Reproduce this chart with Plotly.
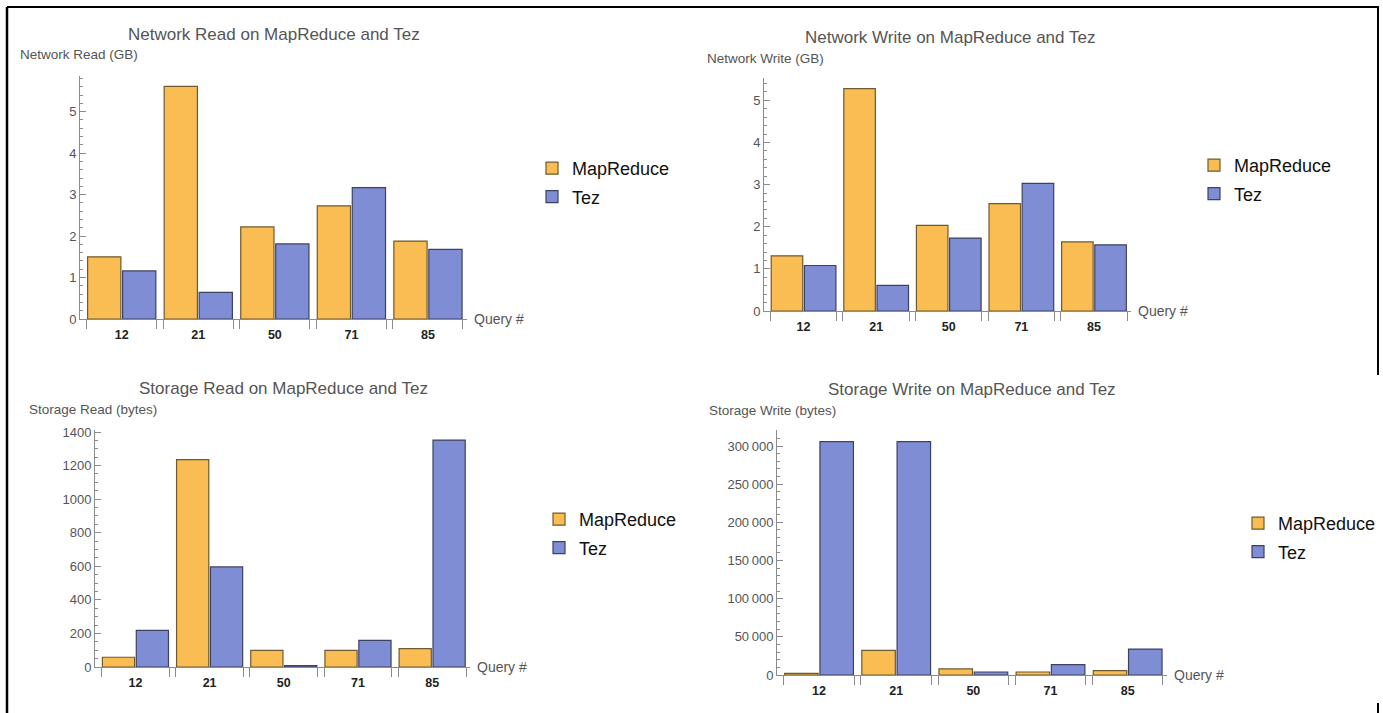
import plotly.graph_objects as go

W, H = 1383, 713

# ---------------- data ----------------
queries = ["12", "21", "50", "71", "85"]
series_names = ["MapReduce", "Tez"]

net_read_mr = [1.50, 5.61, 2.22, 2.73, 1.88]
net_read_tez = [1.16, 0.64, 1.81, 3.17, 1.68]

net_write_mr = [1.31, 5.28, 2.03, 2.55, 1.64]
net_write_tez = [1.08, 0.61, 1.73, 3.03, 1.57]

sto_read_mr = [58, 1235, 99, 99, 109]
sto_read_tez = [218, 596, 8, 159, 1352]

sto_write_mr = [2200, 32300, 7900, 3900, 5700]
sto_write_tez = [305700, 305700, 3900, 13500, 34000]

titles = ["Network Read on MapReduce and Tez", "Network Write on MapReduce and Tez",
          "Storage Read on MapReduce and Tez", "Storage Write on MapReduce and Tez"]
ytitles = ["Network Read (GB)", "Network Write (GB)", "Storage Read (bytes)", "Storage Write (bytes)"]
xlabel = "Query #"

# ---------------- style ----------------
MR_FILL, TEZ_FILL = "#FABD53", "#7F8DD4"
MR_EDGE, TEZ_EDGE = "#6e5a2e", "#3c4262"
AX = "#8c8c8c"
FONT = "Liberation Sans, Arial, sans-serif"


def px_x(p):
    return p / W


def px_y(p):
    return 1 - p / H


XR = [-0.545, 4.51]
HALF = 0.457
panels = [
    dict(mr=net_read_mr, tez=net_read_tez, xd=(80, 467), yd=(76, 319), yr=5.86, dt=1, mdt=0.2, fmt="d",
         tp=(273.5, 34), ytp=(18, 55), lg=(532, 168)),
    dict(mr=net_write_mr, tez=net_write_tez, xd=(764, 1131), yd=(78, 311), yr=5.53, dt=1, mdt=0.2, fmt="d",
         tp=(950, 37), ytp=(705, 58), lg=(1194, 165)),
    dict(mr=sto_read_mr, tez=sto_read_tez, xd=(95, 470), yd=(430, 667), yr=1412, dt=200, mdt=50, fmt="d",
         tp=(283, 388), ytp=(27, 409), lg=(539, 519)),
    dict(mr=sto_write_mr, tez=sto_write_tez, xd=(777, 1167), yd=(430, 675), yr=321000, dt=50000, mdt=10000,
         fmt=",d", tp=(972, 389), ytp=(707, 410), lg=(1238, 523)),
]

fig = go.Figure()
idx = list(range(len(queries)))
boundaries = []
for i in idx:
    boundaries += [i - HALF, i + HALF]

annotations = []
for k, p in enumerate(panels):
    n = "" if k == 0 else str(k + 1)
    xa, ya = "x" + n, "y" + n
    lg = "legend" + n
    for name, vals, fill, edge in [(series_names[0], p["mr"], MR_FILL, MR_EDGE),
                                   (series_names[1], p["tez"], TEZ_FILL, TEZ_EDGE)]:
        fig.add_trace(go.Bar(x=idx, y=vals, name=name, xaxis=xa, yaxis=ya, legend=lg,
                             legendgroup=name + n,
                             marker=dict(color=fill, line=dict(color=edge, width=1.2)),
                             hoverinfo="skip"))
    xkey = "xaxis" + n
    ykey = "yaxis" + n
    fig.layout[xkey] = dict(
        domain=[px_x(p["xd"][0]), px_x(p["xd"][1])], anchor=ya, range=XR,
        tickmode="array", tickvals=idx, ticktext=queries,
        ticks="outside", ticklen=4, tickcolor="rgba(0,0,0,0)",
        tickfont=dict(size=12.5, color="#222", family=FONT, weight="bold"),
        showline=True, linecolor=AX, linewidth=1, showgrid=False, zeroline=False,
        minor=dict(tickmode="array", tickvals=boundaries, ticks="outside", ticklen=9,
                   tickcolor=AX, tickwidth=1, showgrid=False),
        fixedrange=True,
    )
    fig.layout[ykey] = dict(
        domain=[px_y(p["yd"][1]), px_y(p["yd"][0])], anchor=xa, range=[0, p["yr"]],
        tickmode="linear", tick0=0, dtick=p["dt"], tickformat=p["fmt"],
        ticks="inside", ticklen=6, tickcolor=AX, tickwidth=1,
        tickfont=dict(size=13, color="#555", family=FONT),
        showline=True, linecolor=AX, linewidth=1, showgrid=False, zeroline=False,
        minor=dict(dtick=p["mdt"], ticks="inside", ticklen=3, tickcolor=AX, showgrid=False),
        fixedrange=True,
    )
    fig.layout[lg] = dict(
        x=px_x(p["lg"][0]), y=px_y(p["lg"][1] - 18), xanchor="left", yanchor="top",
        font=dict(size=18, color="#111", family=FONT), bgcolor="rgba(0,0,0,0)",
        tracegroupgap=2, traceorder="grouped",
    )
    annotations.append(dict(text=titles[k], xref="paper", yref="paper",
                            x=px_x(p["tp"][0]), y=px_y(p["tp"][1]), xanchor="center", yanchor="middle",
                            showarrow=False, font=dict(size=17, color="#555", family=FONT)))
    annotations.append(dict(text=ytitles[k], xref="paper", yref="paper",
                            x=px_x(p["ytp"][0]), y=px_y(p["ytp"][1]), xanchor="left", yanchor="middle",
                            showarrow=False, font=dict(size=13.5, color="#555", family=FONT)))
    annotations.append(dict(text=xlabel, xref=xa + " domain", yref=ya + " domain",
                            x=1, y=0, xanchor="left", yanchor="middle", xshift=5,
                            showarrow=False, font=dict(size=14, color="#555", family=FONT)))

# screenshot frame lines
shapes = [
    dict(type="line", xref="paper", yref="paper", x0=px_x(7), x1=px_x(1379), y0=px_y(7), y1=px_y(7),
         line=dict(color="black", width=2)),
    dict(type="line", xref="paper", yref="paper", x0=px_x(7), x1=px_x(7), y0=px_y(7), y1=px_y(713),
         line=dict(color="black", width=2.5)),
    dict(type="line", xref="paper", yref="paper", x0=px_x(1378), x1=px_x(1378), y0=px_y(7), y1=px_y(375),
         line=dict(color="black", width=2)),
    dict(type="line", xref="paper", yref="paper", x0=px_x(1378), x1=px_x(1378), y0=px_y(703), y1=px_y(713),
         line=dict(color="black", width=2)),
]

fig.update_layout(
    width=W, height=H, margin=dict(l=0, r=0, t=0, b=0, autoexpand=False),
    paper_bgcolor="white", plot_bgcolor="white",
    barmode="group", bargap=0.086, bargroupgap=0.05,
    separators=".\u2009",
    font=dict(family=FONT),
    annotations=annotations, shapes=shapes,
)

fig.write_html("out.html", config={"displayModeBar": False},
               post_script="document.body.style.margin='0';document.body.style.overflow='hidden';")
